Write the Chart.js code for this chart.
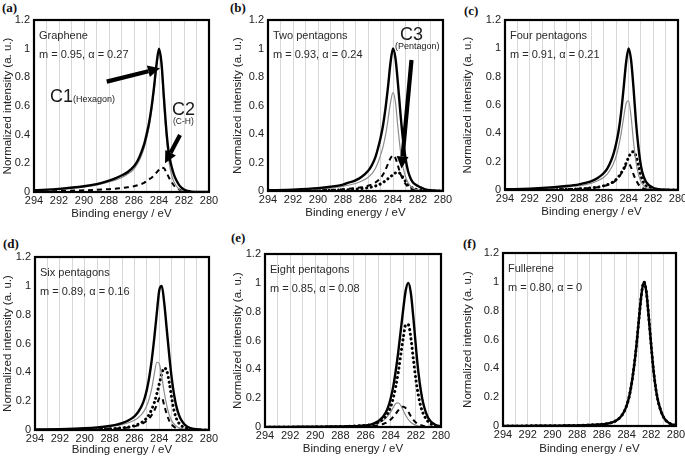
<!DOCTYPE html>
<html>
<head>
<meta charset="utf-8">
<script src="https://cdn.jsdelivr.net/npm/chart.js@4.4.0/dist/chart.umd.min.js"></script>
<style>
html,body{margin:0;padding:0;background:#fff;}
#wrap{position:relative;width:685px;height:461px;overflow:hidden;background:#fff;}
#wrap canvas{position:absolute;}
.lbl{position:absolute;font:bold 13px "Liberation Serif","Times New Roman",serif;color:#111;line-height:13px;white-space:nowrap;}
</style>
</head>
<body>
<div id="wrap">
  <div class="lbl" style="left:2px;top:1px">(a)</div>
  <div class="lbl" style="left:230px;top:1px">(b)</div>
  <div class="lbl" style="left:464px;top:4px">(c)</div>
  <div class="lbl" style="left:3px;top:237px">(d)</div>
  <div class="lbl" style="left:231px;top:231px">(e)</div>
  <div class="lbl" style="left:463px;top:237px">(f)</div>
  <canvas id="ca" width="228" height="225" style="left:0px;top:0px"></canvas>
  <canvas id="cb" width="228" height="225" style="left:230px;top:0px"></canvas>
  <canvas id="cc" width="225" height="225" style="left:460px;top:0px"></canvas>
  <canvas id="cd" width="228" height="233" style="left:0px;top:228px"></canvas>
  <canvas id="ce" width="228" height="233" style="left:230px;top:228px"></canvas>
  <canvas id="cf" width="225" height="233" style="left:460px;top:228px"></canvas>
</div>
<script>
// ---------- data (binding energy grid, eV) ----------
const bindingEnergy = [294,292,290,289,288,287.5,287,286.5,286,285.7,285.4,285.2,285,284.8,284.6,284.4,284.2,284,283.8,283.6,283.4,283.2,283,282.8,282.6,282.4,282.2,282,281.8,281.6,281.4,281,280.5,280];
const xGridValues = [294,293,292,291,290,289,288,287,286,285,284,283,282,281,280];
const xTickLabels = [294,292,290,288,286,284,282,280];
const yTickValues = [0,0.2,0.4,0.6,0.8,1,1.2];

// (a) Graphene
const grapheneTotal = [0.012,0.022,0.04,0.055,0.08,0.095,0.115,0.14,0.18,0.22,0.28,0.33,0.4,0.48,0.59,0.73,0.89,1.0,0.9,0.65,0.42,0.26,0.18,0.12,0.08,0.05,0.03,0.018,0.01,0.005,0.002,0,0,0];
const grapheneC1 = [0.01,0.019,0.035,0.048,0.07,0.083,0.1,0.125,0.16,0.2,0.255,0.305,0.37,0.45,0.56,0.7,0.86,0.97,0.86,0.6,0.37,0.21,0.12,0.07,0.04,0.02,0.01,0.005,0.002,0,0,0,0,0];
const grapheneC2 = [0.005,0.008,0.012,0.015,0.02,0.023,0.028,0.033,0.04,0.047,0.056,0.064,0.075,0.088,0.1,0.115,0.135,0.155,0.17,0.165,0.135,0.1,0.07,0.045,0.03,0.018,0.01,0.005,0.002,0,0,0,0,0];

// (b) Two pentagons
const twoTotal = [0.005,0.01,0.02,0.03,0.045,0.06,0.075,0.1,0.14,0.18,0.24,0.3,0.37,0.46,0.58,0.73,0.9,1.0,0.93,0.75,0.54,0.36,0.23,0.14,0.09,0.06,0.045,0.035,0.025,0.018,0.012,0.006,0.002,0];
const twoC1 = [0.004,0.008,0.015,0.022,0.033,0.042,0.053,0.07,0.095,0.12,0.16,0.2,0.25,0.31,0.39,0.5,0.62,0.69,0.62,0.44,0.28,0.17,0.1,0.06,0.035,0.02,0.012,0.007,0.004,0.002,0,0,0,0];
const twoC2 = [0,0.002,0.005,0.008,0.012,0.016,0.02,0.027,0.037,0.046,0.06,0.073,0.09,0.115,0.15,0.19,0.23,0.25,0.23,0.175,0.12,0.08,0.05,0.03,0.018,0.01,0.005,0.002,0,0,0,0,0,0];
const twoC3 = [0,0.001,0.003,0.005,0.008,0.01,0.013,0.017,0.023,0.028,0.035,0.042,0.05,0.06,0.072,0.086,0.1,0.115,0.127,0.13,0.12,0.095,0.068,0.045,0.03,0.02,0.013,0.008,0.005,0.003,0.002,0.001,0,0];

// (c) Four pentagons
const fourTotal = [0.005,0.01,0.02,0.028,0.04,0.05,0.063,0.085,0.12,0.155,0.21,0.26,0.33,0.42,0.55,0.72,0.9,1.0,0.92,0.72,0.48,0.3,0.17,0.1,0.06,0.038,0.025,0.016,0.01,0.006,0.004,0.002,0,0];
const fourC1 = [0.004,0.008,0.015,0.021,0.03,0.038,0.048,0.065,0.09,0.115,0.155,0.19,0.24,0.31,0.4,0.51,0.61,0.63,0.52,0.34,0.2,0.11,0.06,0.033,0.018,0.01,0.005,0.002,0,0,0,0,0,0];
const fourC2 = [0,0.002,0.004,0.006,0.009,0.012,0.015,0.02,0.028,0.035,0.046,0.056,0.07,0.09,0.115,0.145,0.175,0.185,0.16,0.11,0.07,0.04,0.022,0.012,0.006,0.003,0,0,0,0,0,0,0,0];
const fourC3 = [0,0.001,0.003,0.005,0.008,0.011,0.015,0.02,0.03,0.038,0.05,0.06,0.075,0.095,0.12,0.15,0.19,0.23,0.262,0.27,0.24,0.17,0.1,0.055,0.03,0.017,0.01,0.006,0.003,0.002,0,0,0,0];

// (d) Six pentagons
const sixTotal = [0.003,0.006,0.012,0.018,0.028,0.036,0.048,0.066,0.095,0.125,0.17,0.215,0.28,0.37,0.49,0.64,0.81,0.97,1.0,0.88,0.7,0.52,0.36,0.24,0.155,0.1,0.065,0.042,0.027,0.017,0.011,0.005,0.001,0];
const sixC1 = [0.003,0.006,0.011,0.016,0.024,0.03,0.038,0.05,0.068,0.085,0.11,0.135,0.17,0.22,0.29,0.39,0.47,0.46,0.37,0.26,0.17,0.105,0.065,0.04,0.025,0.015,0.009,0.005,0.003,0,0,0,0,0];
const sixC2 = [0,0.001,0.003,0.005,0.008,0.01,0.013,0.018,0.025,0.032,0.042,0.052,0.065,0.082,0.105,0.135,0.175,0.22,0.225,0.17,0.11,0.065,0.038,0.022,0.012,0.006,0.003,0,0,0,0,0,0,0];
const sixC3 = [0,0.001,0.003,0.005,0.008,0.011,0.015,0.02,0.03,0.04,0.053,0.066,0.085,0.11,0.145,0.19,0.25,0.32,0.39,0.43,0.41,0.33,0.22,0.13,0.075,0.045,0.028,0.018,0.012,0.008,0.005,0.002,0,0];

// (e) Eight pentagons
const eightTotal = [0,0.001,0.002,0.003,0.004,0.005,0.006,0.008,0.011,0.015,0.022,0.03,0.04,0.054,0.073,0.1,0.14,0.2,0.28,0.39,0.52,0.67,0.82,0.95,1.0,0.93,0.76,0.56,0.38,0.25,0.16,0.06,0.018,0.005];
const eightC1 = [0,0,0.001,0.002,0.003,0.004,0.005,0.007,0.01,0.013,0.017,0.021,0.027,0.035,0.045,0.06,0.08,0.105,0.135,0.163,0.168,0.15,0.115,0.08,0.052,0.033,0.02,0.012,0.007,0.004,0.002,0,0,0];
const eightC2 = [0,0,0,0,0.001,0.0015,0.002,0.003,0.004,0.005,0.007,0.009,0.012,0.016,0.021,0.028,0.038,0.052,0.07,0.092,0.115,0.135,0.14,0.13,0.105,0.075,0.05,0.032,0.02,0.012,0.007,0.002,0,0];
const eightC3 = [0,0,0.001,0.002,0.003,0.004,0.006,0.008,0.011,0.014,0.019,0.025,0.032,0.042,0.055,0.073,0.1,0.14,0.2,0.28,0.38,0.5,0.62,0.71,0.71,0.62,0.47,0.33,0.22,0.14,0.09,0.035,0.01,0.003];

// (f) Fullerene
const fullereneTotal = [0,0.001,0.002,0.003,0.004,0.005,0.007,0.009,0.012,0.015,0.019,0.024,0.03,0.04,0.053,0.072,0.1,0.14,0.2,0.29,0.41,0.56,0.74,0.91,1.0,0.93,0.75,0.55,0.37,0.24,0.155,0.06,0.018,0.005];
const fullereneC3 = [0,0.001,0.002,0.003,0.004,0.005,0.007,0.009,0.012,0.015,0.019,0.024,0.03,0.04,0.053,0.072,0.1,0.14,0.2,0.29,0.41,0.56,0.74,0.91,1.0,0.93,0.75,0.55,0.37,0.24,0.155,0.06,0.018,0.005];

// ---------- styles ----------
const FONT = '"Liberation Sans", Arial, Helvetica, sans-serif';
const STYLE = {
  total:  {borderColor:'#000', borderWidth:2.4},
  c1:     {borderColor:'#8c8c8c', borderWidth:1.2},
  c2:     {borderColor:'#000', borderWidth:2, borderDash:[5,4]},
  c3:     {borderColor:'#000', borderWidth:3, borderDash:[0.1,4.6], borderCapStyle:'round'}
};

const panels = [
  {canvas:'ca', box:[0,0,228,225], area:[34,20,209,192], titleY:214, name:'Graphene', params:'m = 0.95, α = 0.27',
   series:[['total',grapheneTotal],['c1',grapheneC1],['c2',grapheneC2]],
   arrows:[[288.18,0.77,283.92,0.863],[282.32,0.398,283.52,0.2]],
   notes:[['C1',292.72,0.63,18],['(Hexagon)',290.88,0.628,9],['C2',282.96,0.537,18],['(C-H)',282.88,0.471,8.5]]},
  {canvas:'cb', box:[230,0,228,225], area:[268,20,443,191], titleY:213, name:'Two pentagons', params:'m = 0.93, α = 0.24',
   series:[['total',twoTotal],['c1',twoC1],['c2',twoC2],['c3',twoC3]],
   arrows:[[282.52,0.919,283.32,0.158]],
   notes:[['C3',283.44,1.06,18],['(Pentagon)',283.84,0.993,9]]},
  {canvas:'cc', box:[460,0,225,225], area:[505,20,678,190], titleY:212, name:'Four pentagons', params:'m = 0.91, α = 0.21',
   series:[['total',fourTotal],['c1',fourC1],['c2',fourC2],['c3',fourC3]], arrows:[], notes:[]},
  {canvas:'cd', box:[0,228,228,233], area:[35,257,209,430], titleY:450, name:'Six pentagons', params:'m = 0.89, α = 0.16',
   series:[['total',sixTotal],['c1',sixC1],['c2',sixC2],['c3',sixC3]], arrows:[], notes:[]},
  {canvas:'ce', box:[230,228,228,233], area:[265,254,441,427], titleY:449, name:'Eight pentagons', params:'m = 0.85, α = 0.08',
   series:[['total',eightTotal],['c3',eightC3],['c1',eightC1],['c2',eightC2]], arrows:[], notes:[]},
  {canvas:'cf', box:[460,228,225,233], area:[503,253,676,426], titleY:448.5, name:'Fullerene', params:'m = 0.80, α = 0',
   series:[['c3',fullereneC3],['total',fullereneTotal]], arrows:[], notes:[]}
];

const decor = {
  id:'panelDecor',
  afterDatasetsDraw(chart, args, o) {
    const {ctx, chartArea:a, scales:{x, y}} = chart;
    ctx.save();
    ctx.strokeStyle = '#000'; ctx.lineWidth = 2.2; ctx.setLineDash([]);
    ctx.strokeRect(a.left, a.top, a.right - a.left, a.bottom - a.top);
    ctx.fillStyle = '#2a2a2a';
    ctx.textAlign = 'left'; ctx.textBaseline = 'alphabetic';
    ctx.font = '11px ' + FONT;
    ctx.fillText(o.name, a.left + 5, a.top + 18.5);
    ctx.fillText(o.params, a.left + 5, a.top + 38);
    ctx.fillStyle = '#000'; ctx.strokeStyle = '#000';
    (o.arrows || []).forEach(ar => {
      const x1 = x.getPixelForValue(ar[0]), y1 = y.getPixelForValue(ar[1]);
      const x2 = x.getPixelForValue(ar[2]), y2 = y.getPixelForValue(ar[3]);
      const ang = Math.atan2(y2 - y1, x2 - x1);
      const hl = 12, hw = 6;
      const bx = x2 - hl * Math.cos(ang), by = y2 - hl * Math.sin(ang);
      ctx.lineWidth = 4.2; ctx.lineCap = 'butt';
      ctx.beginPath(); ctx.moveTo(x1, y1); ctx.lineTo(bx, by); ctx.stroke();
      ctx.beginPath(); ctx.moveTo(x2, y2);
      ctx.lineTo(bx + hw * Math.sin(ang), by - hw * Math.cos(ang));
      ctx.lineTo(bx - hw * Math.sin(ang), by + hw * Math.cos(ang));
      ctx.closePath(); ctx.fill();
    });
    ctx.fillStyle = '#1a1a1a';
    (o.notes || []).forEach(n => {
      ctx.font = n[3] + 'px ' + FONT;
      ctx.fillText(n[0], x.getPixelForValue(n[1]), y.getPixelForValue(n[2]));
    });
    ctx.restore();
  }
};

panels.forEach(p => {
  const [cx, cy, cw, ch] = p.box;
  const [l, t, r, b] = p.area;
  const yw = l - cx;
  const xh = (cy + ch) - b;
  const pb = Math.max(0, (cy + ch) - p.titleY - 6.9);
  const datasets = p.series.map(([kind, vals]) => Object.assign({
    data: bindingEnergy.map((e, i) => ({x: e, y: vals[i]})),
    pointRadius: 0, fill: false, cubicInterpolationMode: 'monotone', borderDash: []
  }, STYLE[kind]));
  new Chart(document.getElementById(p.canvas), {
    type: 'line',
    data: {datasets},
    options: {
      responsive: false, animation: false, devicePixelRatio: 1,
      layout: {padding: {left: 0, top: t - cy, right: (cx + cw) - r, bottom: 0}},
      plugins: {legend: {display: false}, tooltip: {enabled: false},
        panelDecor: {name: p.name, params: p.params, arrows: p.arrows, notes: p.notes}},
      scales: {
        x: {type: 'linear', reverse: true, min: 280, max: 294,
          afterBuildTicks: s => { s.ticks = xGridValues.map(v => ({value: v})); },
          afterFit: s => { s.height = xh; s.paddingLeft = 0; s.paddingRight = 0; },
          grid: {color: '#d8d8d8', lineWidth: 1, drawTicks: false},
          border: {display: false},
          ticks: {autoSkip: false, maxRotation: 0, minRotation: 0, padding: 2, color: '#222',
            font: {size: 11, family: FONT},
            callback: v => xTickLabels.includes(v) ? String(v) : ''},
          title: {display: true, text: 'Binding energy / eV', color: '#222',
            font: {size: 11.5, family: FONT}, padding: {top: 0, bottom: pb}}
        },
        y: {type: 'linear', min: 0, max: 1.2,
          afterBuildTicks: s => { s.ticks = yTickValues.map(v => ({value: v})); },
          afterFit: s => { s.width = yw; },
          grid: {display: false, drawTicks: false},
          border: {display: false},
          ticks: {padding: 4, color: '#222', font: {size: 11, family: FONT},
            callback: v => String(v)},
          title: {display: true, text: 'Normalized intensity (a. u.)', color: '#222',
            font: {size: 11.5, family: FONT}, padding: {top: 1, bottom: 0}}
        }
      }
    },
    plugins: [decor]
  });
});
</script>
</body>
</html>
